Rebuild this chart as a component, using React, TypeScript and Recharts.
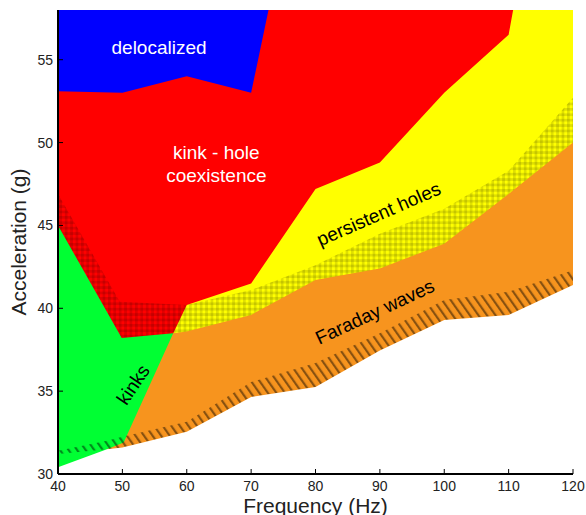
import { ComposedChart, Area, XAxis, YAxis, ReferenceDot } from "recharts";

const FONT = "'Liberation Sans', Arial, Helvetica, sans-serif";

const freqTicks = [40, 50, 60, 70, 80, 90, 100, 110, 120];
const accelTicks = [30, 35, 40, 45, 50, 55];

// delocalized (blue) – lower edge
const delocFreq = [40, 50, 60, 70, 72.7];
const delocLow = [53.1, 53.0, 54.0, 53.0, 58];

// persistent holes (yellow) – upper edge
const holesFreq = [57.9, 60, 70, 80, 90, 100, 110, 110.7, 120];
const holesTop = [38.5, 40.2, 41.5, 47.2, 48.8, 53.0, 56.5, 58, 58];

// checkered hysteresis band – upper edge
const hystFreq = [40, 49.6, 60, 70, 80, 90, 100, 110, 120];
const hystTop = [46.9, 40.4, 40.2, 41.1, 42.6, 44.5, 46.0, 48.3, 52.7];

// kinks (green) – upper edge
const kinkFreq = [40, 49.9, 57.9];
const kinkTop = [45.0, 38.2, 38.5];

// Faraday waves (orange) – upper edge
const faradayFreq = [47.6, 50.2, 57.9, 60, 70, 80, 90, 100, 110, 120];
const faradayTop = [31.5, 31.9, 38.5, 38.6, 39.6, 41.7, 42.4, 43.9, 46.9, 50.0];

// Faraday onset (lower edge) and hatched band
const onsetFreq = [40, 47.6, 50, 60, 70, 80, 90, 100, 110, 120];
const onsetLow = [30.4, 31.5, 31.6, 32.55, 34.65, 35.25, 37.45, 39.3, 39.6, 41.4];
const hatchLow = [31.2, 31.5, 31.6, 32.55, 34.65, 35.25, 37.45, 39.3, 39.6, 41.4];
const hatchTop = [31.4, 32.0, 32.25, 33.15, 35.55, 36.7, 38.5, 40.5, 41.0, 42.3];

const fullFreq = [40, 120];
const fullTop = [58, 58];

const band = (xs: number[], lo: number[], hi: number[]) =>
  xs.map((x, i) => ({ x, v: [lo[i], hi[i]] }));
const fromFloor = (xs: number[], hi: number[]) =>
  band(xs, xs.map(() => accelTicks[0]), hi);

const redData = fromFloor(fullFreq, fullTop);
const blueData = band(delocFreq, delocLow, delocFreq.map(() => 58));
const yellowData = fromFloor(holesFreq, holesTop);
const checkerData = fromFloor(hystFreq, hystTop);
const greenData = fromFloor(kinkFreq, kinkTop);
const orangeData = fromFloor(faradayFreq, faradayTop);
const hatchData = band(onsetFreq, hatchLow, hatchTop);
const whiteData = fromFloor(onsetFreq, onsetLow);

const noTick = () => <g />;
const axisLine = { stroke: "#000", strokeWidth: 2 };
const tickStyle = { fill: "#222", fontSize: 14, fontFamily: FONT };

function Region({ data, fill }: { data: any[]; fill: string }) {
  return (
    <Area
      data={data}
      dataKey="v"
      type="linear"
      stroke="none"
      fill={fill}
      fillOpacity={1}
      dot={false}
      activeDot={false}
      isAnimationActive={false}
    />
  );
}

export default function App() {
  return (
    <div style={{ position: "absolute", left: 0, top: 0, width: 586, height: 515, background: "#fff", fontFamily: FONT }}>
      <ComposedChart width={586} height={515} margin={{ top: 10, right: 13, bottom: 11, left: 8 }}>
        <defs>
          <pattern id="checker" width="5.4" height="5.4" patternUnits="userSpaceOnUse">
            <rect x="0" y="0" width="2.7" height="5.4" fill="#000" fillOpacity="0.12" />
            <rect x="0" y="0" width="5.4" height="2.7" fill="#000" fillOpacity="0.12" />
          </pattern>
          <pattern id="hatch" width="7" height="7" patternUnits="userSpaceOnUse" patternTransform="rotate(-35)">
            <rect x="0" y="0" width="2.2" height="7" fill="#000" fillOpacity="0.45" />
          </pattern>
        </defs>

        <Region data={redData} fill="#ff0000" />
        <Region data={blueData} fill="#0000ff" />
        <Region data={yellowData} fill="#ffff00" />
        <Region data={checkerData} fill="url(#checker)" />
        <Region data={greenData} fill="#00ff33" />
        <Region data={orangeData} fill="#f7941e" />
        <Region data={hatchData} fill="url(#hatch)" />
        <Region data={whiteData} fill="#ffffff" />

        <XAxis
          type="number"
          dataKey="x"
          domain={[40, 120]}
          ticks={freqTicks}
          interval={0}
          height={30}
          tickSize={-5}
          tickMargin={12}
          axisLine={axisLine}
          tickLine={{ stroke: "#000" }}
          tick={tickStyle}
          label={{ value: "Frequency (Hz)", position: "bottom", offset: -6, fontSize: 21, fill: "#222", fontFamily: FONT }}
        />
        <XAxis
          xAxisId="top"
          orientation="top"
          type="number"
          dataKey="x"
          domain={[40, 120]}
          ticks={freqTicks}
          interval={0}
          height={0}
          tickSize={-5}
          axisLine={axisLine}
          tickLine={{ stroke: "#000" }}
          tick={noTick}
        />
        <YAxis
          type="number"
          domain={[30, 58]}
          ticks={accelTicks}
          interval={0}
          width={50}
          tickSize={-5}
          tickMargin={10}
          axisLine={axisLine}
          tickLine={{ stroke: "#000" }}
          tick={tickStyle}
          label={{
            value: "Acceleration (g)",
            angle: -90,
            position: "insideLeft",
            offset: 11,
            fontSize: 21,
            fill: "#222",
            fontFamily: FONT,
            style: { textAnchor: "middle" },
          }}
        />
        <YAxis
          yAxisId="right"
          orientation="right"
          type="number"
          domain={[30, 58]}
          ticks={accelTicks}
          interval={0}
          width={0}
          tickSize={-5}
          axisLine={axisLine}
          tickLine={{ stroke: "#000" }}
          tick={noTick}
        />

        <ReferenceDot x={55.7} y={55.75} r={0} fill="none" stroke="none"
          label={{ value: "delocalized", position: "center", fill: "#fff", fontSize: 19, fontFamily: FONT }} />
        <ReferenceDot x={64.6} y={49.4} r={0} fill="none" stroke="none"
          label={{ value: "kink - hole", position: "center", fill: "#fff", fontSize: 19, fontFamily: FONT }} />
        <ReferenceDot x={64.6} y={48.0} r={0} fill="none" stroke="none"
          label={{ value: "coexistence", position: "center", fill: "#fff", fontSize: 19, fontFamily: FONT }} />
        <ReferenceDot x={89.8} y={45.7} r={0} fill="none" stroke="none"
          label={{ value: "persistent holes", position: "center", angle: -23.5, fill: "#000", fontSize: 19, fontFamily: FONT }} />
        <ReferenceDot x={89.2} y={39.8} r={0} fill="none" stroke="none"
          label={{ value: "Faraday waves", position: "center", angle: -25, fill: "#000", fontSize: 19, fontFamily: FONT }} />
        <ReferenceDot x={51.65} y={35.4} r={0} fill="none" stroke="none"
          label={{ value: "kinks", position: "center", angle: -56, fill: "#000", fontSize: 19, fontFamily: FONT }} />
      </ComposedChart>
    </div>
  );
}
